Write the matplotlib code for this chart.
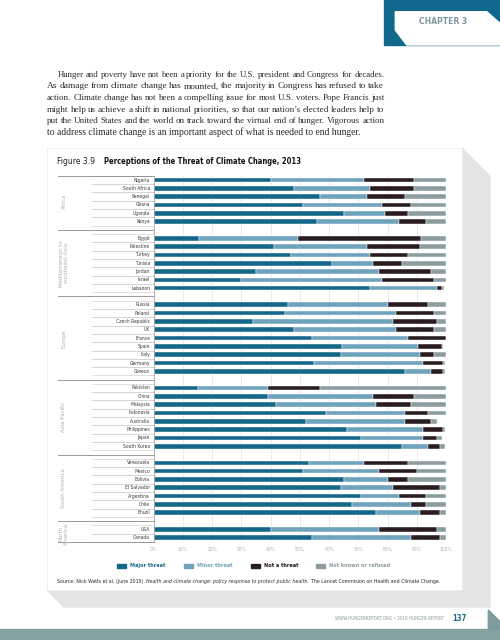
import matplotlib
matplotlib.use('Agg')
import matplotlib.pyplot as plt
import numpy as np
from matplotlib.patches import Polygon, Rectangle

NARROW = ['Liberation Sans Narrow', 'DejaVu Sans']
SERIF = ['Liberation Serif', 'DejaVu Serif']
plt.rcParams['font.family'] = NARROW
plt.rcParams['font.stretch'] = 'condensed'

# percent of respondents
regions = ['Africa', 'Mediterranean to\nsoutheast Asia', 'Europe', 'Asia Pacific',
           'South America', 'North\nAmerica']
region_sizes = [6, 7, 9, 8, 7, 2]
countries = ['Nigeria', 'South Africa', 'Senegal', 'Ghana', 'Uganda', 'Kenya',
             'Egypt', 'Palestine', 'Turkey', 'Tunisia', 'Jordan', 'Israel', 'Lebanon',
             'Russia', 'Poland', 'Czech Republic', 'UK', 'France', 'Spain', 'Italy',
             'Germany', 'Greece',
             'Pakistan', 'China', 'Malaysia', 'Indonesia', 'Australia', 'Philippines',
             'Japan', 'South Korea',
             'Venezuela', 'Mexico', 'Bolivia', 'El Salvador', 'Argentina', 'Chile', 'Brazil',
             'USA', 'Canada']
major = [40, 48, 57, 51, 65, 56,
         15.5, 41, 47, 61, 35, 30, 74,
         46, 45, 34, 48, 54, 64.5, 64, 55, 86,
         15, 39, 42, 59, 52, 66, 71, 85,
         53, 51, 65, 64, 71, 68, 76,
         40, 54]
minor = [32, 26, 16, 27, 14, 28,
         34, 32, 27, 14, 42, 48, 23,
         34, 38, 48, 35, 33, 26, 27, 37, 9,
         24, 36, 34, 27, 34, 26, 21, 9,
         19, 26, 15, 18, 13, 20, 15,
         37, 34]
not_threat = [17, 15, 13, 10, 8, 9,
              42, 18, 13, 10, 18, 18, 1.5,
              14, 13, 15, 13, 13, 8, 5, 7, 4,
              18, 14, 12, 8, 9, 7, 5, 4,
              15, 13, 7, 16, 9, 5, 7,
              20, 10]
unknown = [11, 11, 14, 12, 13, 7,
           8.5, 9, 13, 15, 5, 4, 0.7,
           6, 4, 3, 4, 0, 0.5, 4, 0.5, 0.5,
           43, 11, 12, 6, 2, 0.5, 1.5, 1.5,
           13, 10, 13, 2, 7, 7, 2,
           3, 2]
series = ['Major threat', 'Minor threat', 'Not a threat', 'Not known or refused']
ticks = [0, 10, 20, 30, 40, 50, 60, 70, 80, 90, 100]
tick_labels = ['0%', '10%', '20%', '30%', '40%', '50%', '60%', '70%', '80%', '90%', '100%']

body = ["Hunger and poverty have not been a priority for the U.S. president and Congress for decades.",
        "As damage from climate change has mounted, the majority in Congress has refused to take",
        "action. Climate change has not been a compelling issue for most U.S. voters. Pope Francis just",
        "might help us achieve a shift in national priorities, so that our nation\u2019s elected leaders help to",
        "put the United States and the world on track toward the virtual end of hunger. Vigorous action",
        "to address climate change is an important aspect of what is needed to end hunger."]

colors = ['#15678a', '#6fa2bc', '#2a1d22', '#8d9d9f']
text_colors = ['#1a6a8c', '#6fa3bd', '#1f1a1c', '#8c9c9e']

fig = plt.figure(figsize=(5, 6.4), dpi=100)
renderer = fig.canvas.get_renderer()

# page layer in pixel units
pg = fig.add_axes([0, 0, 1, 1], zorder=0)
pg.set_xlim(0, 500)
pg.set_ylim(640, 0)
pg.axis('off')


def width(t):
    return t.get_window_extent(renderer).width


def fit(t, w):
    t.set_fontsize(t.get_fontsize() * w / width(t))


# chapter tab
pg.add_patch(Rectangle((384, 0), 116, 45, color='#10698d'))
pg.add_patch(Polygon([(395.3, 11.7), (486.7, 11.7), (500, 23.3), (500, 45), (406.7, 45), (395.3, 30)],
                     color='white'))
t = pg.text(442.7, 21.5, 'CHAPTER 3', ha='center', va='center', color='#7d95a0',
            fontsize=9, fontweight='bold')
fit(t, 48)

# body paragraph, justified by hand (font shrunk a bit on lines that are too long)
BODY_SIZE = 6.9
body_kw = dict(family=SERIF, fontstretch='normal', fontsize=BODY_SIZE, color='#2a2a2a', va='center')
for i, line in enumerate(body):
    y = 75 + i * 11.5
    x0 = 57.7 if i == 0 else 47
    if i == len(body) - 1:
        pg.text(x0, y, line, **body_kw)
        continue
    words = [pg.text(0, y, w, **body_kw) for w in line.split()]
    ws = [width(w) for w in words]
    avail = 384.3 - x0 - (len(words) - 1) * 1.9
    if sum(ws) > avail:
        for w in words:
            w.set_fontsize(BODY_SIZE * avail / sum(ws))
        ws = [width(w) for w in words]
    gap = (384.3 - x0 - sum(ws)) / (len(words) - 1)
    x = x0
    for w, wd in zip(words, ws):
        w.set_x(x)
        x += wd + gap

# figure box with shadow
pg.add_patch(Polygon([(47, 590), (64, 607), (490, 607), (490, 176), (462, 148), (462, 590)],
                     color='#e3e5e5'))
pg.add_patch(Rectangle((47, 148), 415, 442, facecolor='white', edgecolor='#ececec', lw=0.5))

t = pg.text(56.7, 162, 'Figure 3.9', va='center', color='#222222', fontsize=7)
fit(t, 37.6)
t = pg.text(104.3, 162, 'Perceptions of the Threat of Climate Change, 2013', va='center',
            color='#111111', fontsize=7, fontweight='bold')
fit(t, 196)

# bars
ax = fig.add_axes([153.7 / 500, 1 - 541.86 / 640, 292.3 / 500, 366.0 / 640], zorder=1)
ax.set_facecolor('none')

rows = []
r = 0
starts = []
for n in region_sizes:
    starts.append(r)
    rows += list(range(r, r + n))
    r += n + 1

left = np.zeros(len(countries))
for vals, c in zip([major, minor, not_threat, unknown], colors):
    ax.barh(rows, vals, left=left, height=0.56, color=c, edgecolor='white', linewidth=0.3)
    left += np.array(vals)

ax.set_xlim(0, 100)
ax.set_ylim(rows[-1] + 0.5, -0.5)
ax.set_xticks(ticks)
ax.set_xticklabels(tick_labels)
ax.set_yticks([])
ax.grid(axis='x', color='#e2e2e2', lw=0.5)
ax.set_axisbelow(True)
ax.tick_params(axis='x', length=0, pad=4, labelsize=3.6, labelcolor='#b0b0b0')
for s in ['top', 'right', 'bottom']:
    ax.spines[s].set_visible(False)
ax.spines['left'].set_color('#a8a8a8')
ax.spines['left'].set_linewidth(0.6)

ytr = ax.get_yaxis_transform()
for i, name in zip(rows, countries):
    ax.text(-0.013, i, name, transform=ytr, ha='right', va='center', fontsize=3.6, color='#3a3a3a')
    for yb in (i - 0.5, i + 0.5):
        ax.plot([-0.212, 0], [yb, yb], transform=ytr, color='#d2d2d2', lw=0.5, clip_on=False)

long_lines = [-0.5] + [s - 1 for s in starts[1:]] + [rows[-1] + 0.5]
for yb in long_lines:
    ax.plot([-0.327, 0], [yb, yb], transform=ytr, color='#8a8a8a', lw=0.6, clip_on=False)

for s, n, name in zip(starts, region_sizes, regions):
    ax.text(-0.307, s + (n - 1) / 2, name, transform=ytr, rotation=90, ha='center', va='center',
            fontsize=4.3, color='#a9b4b8', linespacing=1.0)

# legend
for x, label, c, tc in zip([116.7, 183.7, 250.7, 316], series, colors, text_colors):
    pg.add_patch(Rectangle((x, 563.8), 9, 3.8, color=c))
    pg.text(x + 13.3, 565.7, label, va='center', color=tc, fontsize=4.0, fontweight='bold')

# source line, scaled so it spans the same width as the printed one
parts = [('Source: Nick Watts et al. (June 2015).', 'normal'),
         ('Health and climate change: policy response to protect public health.', 'italic'),
         ('The Lancet Commision on Health and Climate Change.', 'normal')]
src = [pg.text(0, 581, txt, va='center', fontsize=4.0, style=style, color='#2a2a2a')
       for txt, style in parts]
scale = (378 - 2 * 1.6) / sum(width(t) for t in src)
x = 56.7
for t in src:
    t.set_fontsize(4.0 * scale)
    t.set_x(x)
    x += width(t) + 1.6

# footer
pg.add_patch(Rectangle((0, 628.5), 500, 12, color='#86a1a2'))
pg.add_patch(Polygon([(488.3, 610), (500, 621.5), (500, 629), (488.3, 629)], color='#7f9b9d'))
t = pg.text(444, 618.3, 'WWW.HUNGERREPORT.ORG \u2022 2016 HUNGER REPORT', ha='right', va='center',
            color='#8b9ba1', fontsize=5)
fit(t, 112)
pg.text(452.7, 618.3, '137', va='center', color='#1a6a8c', fontsize=5.5, fontweight='bold')

fig.savefig('out.png', dpi=100)
